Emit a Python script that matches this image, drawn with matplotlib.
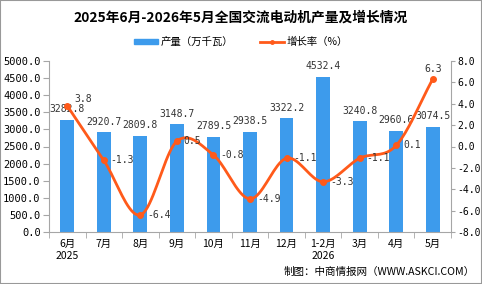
import numpy as np
import matplotlib
matplotlib.use('Agg')
import matplotlib.pyplot as plt
from matplotlib.patches import Rectangle

plt.rcParams['font.family'] = ['Noto Sans CJK SC', 'DejaVu Sans']

months = ['6月\n2025', '7月', '8月', '9月', '10月', '11月', '12月', '1-2月\n2026', '3月', '4月', '5月']
output = [3282.8, 2920.7, 2809.8, 3148.7, 2789.5, 2938.5, 3322.2, 4532.4, 3240.8, 2960.6, 3074.5]
growth = [3.8, -1.3, -6.4, 0.5, -0.8, -4.9, -1.1, -3.3, -1.1, 0.1, 6.3]

bar_color = '#3D9BEC'
line_color = '#FF5A1A'
grey = '#A6A6A6'
num_font = ['DejaVu Sans Mono']


def smooth(x, y, n=20):
    # catmull-rom curve through the points, just for drawing
    x = np.asarray(x, float)
    y = np.asarray(y, float)
    px = np.concatenate([[2 * x[0] - x[1]], x, [2 * x[-1] - x[-2]]])
    py = np.concatenate([[2 * y[0] - y[1]], y, [2 * y[-1] - y[-2]]])
    xs, ys = [], []
    t = np.linspace(0, 1, n, endpoint=False)
    for i in range(1, len(px) - 2):
        for p, out in ((px, xs), (py, ys)):
            p0, p1, p2, p3 = p[i - 1], p[i], p[i + 1], p[i + 2]
            out.extend(0.5 * (2 * p1 + (-p0 + p2) * t + (2 * p0 - 5 * p1 + 4 * p2 - p3) * t ** 2
                              + (-p0 + 3 * p1 - 3 * p2 + p3) * t ** 3))
    xs.append(x[-1])
    ys.append(y[-1])
    return xs, ys


fig = plt.figure(figsize=(4.82, 2.84), dpi=100)
ax = fig.add_axes([49 / 482, 1 - 232 / 284, 402 / 482, 171 / 284])
ax2 = ax.twinx()

x = np.arange(len(months))
ax.bar(x, output, width=0.38, color=bar_color, zorder=2)
for xi, v in zip(x, output):
    ax.annotate(f'{v:.1f}', (xi, v), xytext=(0, 4), textcoords='offset points',
                ha='center', va='bottom', fontsize=7, family=num_font, color='#333333', zorder=5)

sx, sy = smooth(x, growth)
ax2.plot(sx, sy, color=line_color, lw=2, zorder=3)
ax2.plot(x, growth, 'o', color=line_color, ms=4, zorder=4)
for xi, g in zip(x, growth):
    if xi == len(x) - 1:
        ax2.annotate(f'{g:.1f}', (xi, g), xytext=(0, 4), textcoords='offset points',
                     ha='center', va='bottom', fontsize=7, family=num_font, color='#333333')
    else:
        dy = 5 if xi == 0 else 0
        ax2.annotate(f'{g:.1f}', (xi, g), xytext=(5, dy), textcoords='offset points',
                     ha='left', va='center', fontsize=7, family=num_font, color='#333333')

ax.set_xlim(-0.5, len(x) - 0.5)
ax.set_ylim(0, 5000)
ax.set_yticks(np.arange(0, 5001, 500))
ax.set_yticklabels([f'{v:.1f}' for v in np.arange(0, 5001, 500)], family=num_font)
ax2.set_ylim(-8, 8)
ax2.set_yticks(np.arange(-8, 9, 2))
ax2.set_yticklabels([f'{v:.1f}' for v in np.arange(-8, 9, 2)], family=num_font)

ax.set_xticks(x)
ax.set_xticklabels(months, fontsize=7.5)
ax.set_xticks(np.arange(-0.5, len(x), 1), minor=True)
ax.tick_params(axis='x', which='major', length=0, pad=5)
ax.tick_params(axis='x', which='minor', length=4, color=grey, direction='out')
ax.tick_params(axis='y', labelsize=7.5, length=4, color=grey, pad=2)
ax2.tick_params(axis='y', labelsize=7, length=3, color=grey, pad=1.5)

for a in (ax, ax2):
    a.spines['top'].set_visible(False)
    for s in ('left', 'right', 'bottom'):
        a.spines[s].set_color(grey)
ax.spines['right'].set_visible(False)
ax2.spines['left'].set_visible(False)
ax2.spines['bottom'].set_visible(False)

handles = [Rectangle((0, 0), 1, 1, color=bar_color),
           plt.Line2D([], [], color=line_color, lw=2, marker='o', ms=2.5)]
fig.legend(handles, ['产量（万千瓦）', '增长率（%）'], loc='center', bbox_to_anchor=(0.5, 1 - 42 / 284),
           ncol=2, frameon=False, fontsize=7.5, handlelength=2.3, handleheight=0.4, columnspacing=2.5,
           handletextpad=0.3)

fig.text(0.5, 1 - 18 / 284, '2025年6月-2026年5月全国交流电动机产量及增长情况',
         ha='center', va='center', fontsize=9.9, fontweight='bold')
fig.text(0.985, 1 - 272 / 284, '制图：中商情报网（WWW.ASKCI.COM）',
         ha='right', va='center', fontsize=7.6)

fig.add_artist(Rectangle((0, 0), 1, 1, transform=fig.transFigure, fill=False,
                         edgecolor='#999999', lw=1.5))

fig.savefig('out.png', dpi=100)
